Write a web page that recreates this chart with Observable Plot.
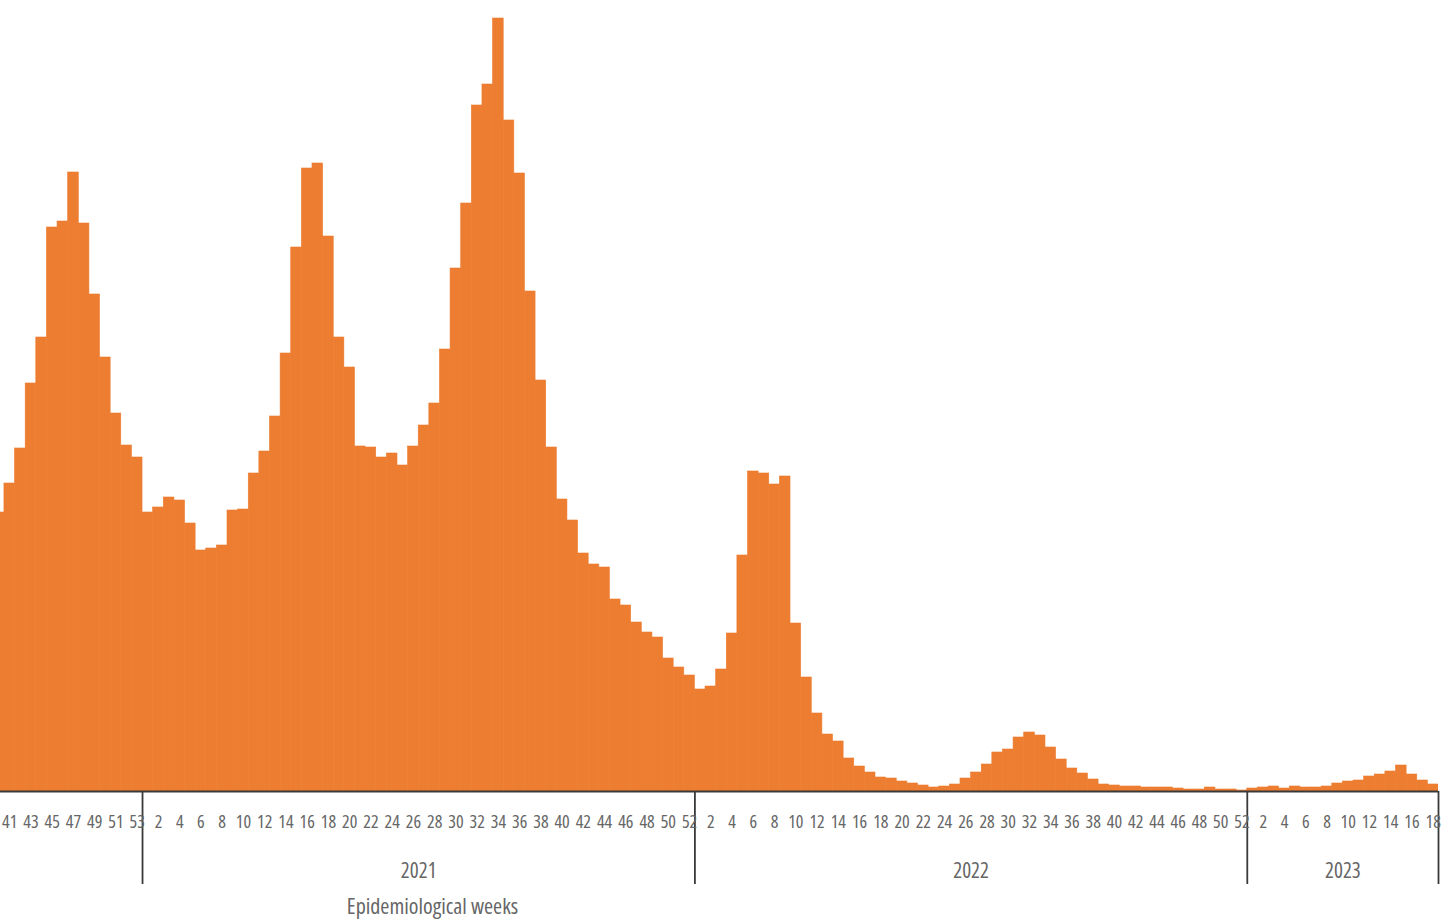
<!DOCTYPE html>
<html>
<head>
<meta charset="utf-8">
<script src="https://cdn.jsdelivr.net/npm/d3@7"></script>
<script src="https://cdn.jsdelivr.net/npm/@observablehq/plot@0.6"></script>
<style>
  html, body { margin: 0; padding: 0; background: #ffffff; }
  #chart { width: 1442px; height: 922px; overflow: hidden; }
  #chart svg text { font-family: 'Open Sans', 'Roboto Condensed', sans-serif; font-stretch: 75%; }
</style>
</head>
<body>
<div id="chart"></div>
<script>
// ---- Data (relative weekly counts) ----
const years = ["2020", "2021", "2022", "2023"];

const weeks2020 = [40, 41, 42, 43, 44, 45, 46, 47, 48, 49, 50, 51, 52, 53];
const values2020 = [279, 308, 343, 408, 454, 564, 570, 619, 568, 497, 434, 378, 346, 334];

const weeks2021 = [1, 2, 3, 4, 5, 6, 7, 8, 9, 10, 11, 12, 13, 14, 15, 16, 17, 18, 19, 20, 21, 22, 23, 24, 25, 26,
  27, 28, 29, 30, 31, 32, 33, 34, 35, 36, 37, 38, 39, 40, 41, 42, 43, 44, 45, 46, 47, 48, 49, 50, 51, 52];
const values2021 = [279, 284, 294, 291, 268, 241, 243, 246, 281, 282, 318, 340, 375, 438, 544, 623, 628, 555, 454, 424,
  345, 344, 334, 338, 326, 345, 366, 388, 442, 523, 588, 686, 707, 773, 671, 618, 500, 411, 344, 292,
  271, 238, 227, 224, 192, 186, 169, 159, 154, 133, 124, 116];

const weeks2022 = [1, 2, 3, 4, 5, 6, 7, 8, 9, 10, 11, 12, 13, 14, 15, 16, 17, 18, 19, 20, 21, 22, 23, 24, 25, 26,
  27, 28, 29, 30, 31, 32, 33, 34, 35, 36, 37, 38, 39, 40, 41, 42, 43, 44, 45, 46, 47, 48, 49, 50, 51, 52];
const values2022 = [102, 105, 122, 158, 236, 320, 318, 307, 315, 168, 114, 78, 57, 50, 33, 25, 19, 14, 13, 10,
  8, 6, 4, 5, 7, 13, 19, 27, 39, 42, 54, 59, 56, 44, 32, 23, 18, 12, 7, 6,
  5, 5, 4, 4, 4, 3, 2, 2, 4, 2, 2, 1];

const weeks2023 = [1, 2, 3, 4, 5, 6, 7, 8, 9, 10, 11, 12, 13, 14, 15, 16, 17, 18];
const values2023 = [3, 4, 5, 3, 5, 4, 4, 5, 8, 10, 11, 15, 17, 20, 26, 17, 11, 7];

// Tick labels shown under the axis (every other week)
const tickLabels2020 = [41, 43, 45, 47, 49, 51, 53];
const tickLabels2021 = [2, 4, 6, 8, 10, 12, 14, 16, 18, 20, 22, 24, 26, 28, 30, 32, 34, 36, 38, 40, 42, 44, 46, 48, 50, 52];
const tickLabels2022 = [2, 4, 6, 8, 10, 12, 14, 16, 18, 20, 22, 24, 26, 28, 30, 32, 34, 36, 38, 40, 42, 44, 46, 48, 50, 52];
const tickLabels2023 = [2, 4, 6, 8, 10, 12, 14, 16, 18];

const axisTitle = "Epidemiological weeks";

// ---- Build table ----
const series = [
  {year: "2020", weeks: weeks2020, values: values2020, ticks: tickLabels2020},
  {year: "2021", weeks: weeks2021, values: values2021, ticks: tickLabels2021},
  {year: "2022", weeks: weeks2022, values: values2022, ticks: tickLabels2022},
  {year: "2023", weeks: weeks2023, values: values2023, ticks: tickLabels2023}
];

const rows = [];
const tickRows = [];
const yearRows = [];
const boundaries = [];
let idx = 0;
for (const s of series) {
  const start = idx;
  s.weeks.forEach((w, k) => {
    rows.push({year: s.year, week: w, value: s.values[k], i: idx + k});
  });
  s.ticks.forEach(t => {
    const k = s.weeks.indexOf(t);
    tickRows.push({label: String(t), x: start + k + 0.5});
  });
  idx += s.weeks.length;
  if (s.year !== years[0]) {
    boundaries.push(start);
    yearRows.push({year: s.year, x: (start + idx) / 2});
  }
}
boundaries.push(idx);

const orange = "#ED7D31";
const grey = "#666666";
const dark = "#3a3a3a";

const chart = Plot.plot({
  width: 1442,
  height: 922,
  marginTop: 0,
  marginLeft: 0,
  marginRight: 4,
  marginBottom: 131,
  style: {fontFamily: "'Open Sans', 'Roboto Condensed', sans-serif", fontStretch: "75%", background: "#ffffff"},
  x: {type: "linear", domain: [0.63, idx], axis: null},
  y: {domain: [0, 791], axis: null},
  marks: [
    Plot.rectY(rows, {x1: "i", x2: d => d.i + 1, y1: 0, y2: "value", fill: orange, stroke: orange, strokeWidth: 0.6, clip: true}),
    Plot.ruleY([0], {stroke: dark, strokeWidth: 2.2}),
    Plot.ruleX(boundaries, {x: d => d, y1: 0, y2: -93, stroke: dark, strokeWidth: 1.8}),
    Plot.text(tickRows, {x: "x", text: "label", frameAnchor: "bottom", dy: 36, fontSize: 18, fill: grey}),
    Plot.text(yearRows, {x: "x", text: "year", frameAnchor: "bottom", dy: 86, fontSize: 21, fill: grey}),
    Plot.text([axisTitle], {text: d => d, frameAnchor: "bottom-left", dx: 432, dy: 122, textAnchor: "middle", fontSize: 22, fill: grey})
  ]
});

document.getElementById("chart").appendChild(chart);
</script>
</body>
</html>
